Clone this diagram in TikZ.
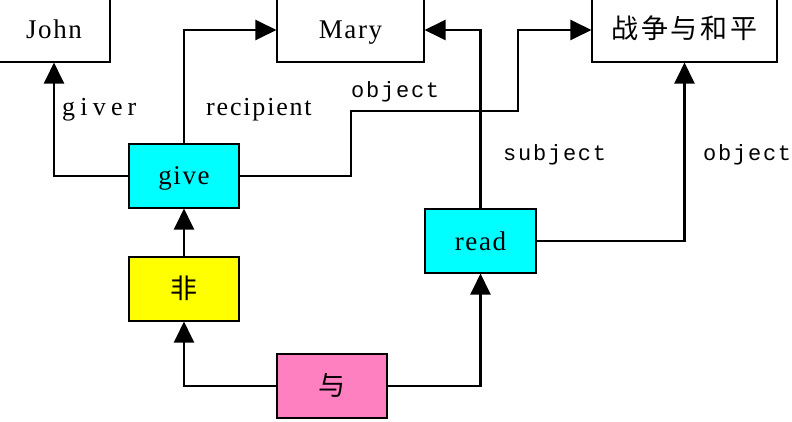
\documentclass[tikz,border=0pt]{standalone}
\usepackage{fontspec}
\setmainfont{Liberation Serif}
\newfontfamily\monof{Liberation Mono}
\newfontfamily\cjk{Noto Sans CJK SC}
\usetikzlibrary{arrows.meta}
\definecolor{boxcyan}{HTML}{00FFFF}
\definecolor{boxyellow}{HTML}{FFFF00}
\definecolor{boxpink}{HTML}{FF80C0}
\tikzset{
  box/.style={draw=black, line width=1.1pt, rectangle, inner sep=0pt,
    text height=18pt, text depth=0pt,
    font=\fontsize{27}{30}\selectfont\addfontfeature{LetterSpace=6}},
  cjkbox/.style={box, font=\cjk\fontsize{27}{30}\selectfont\addfontfeature{LetterSpace=11}},
  conn/.style={draw=black, line width=2.2pt, -{Triangle[length=21pt,width=20pt]}},
  seriflabel/.style={anchor=base west, inner sep=0pt, font=\fontsize{26}{28}\selectfont},
  monolabel/.style={anchor=base west, inner sep=0pt, font=\monof\fontsize{22}{24}\selectfont\addfontfeature{LetterSpace=8}},
}
\begin{document}
\begin{tikzpicture}[x=1pt,y=-1pt]
\useasboundingbox (0,0) rectangle (792,422);
\fill[white] (0,0) rectangle (792,422);
\begin{scope}
\clip (0,0) rectangle (792,422);
% boxes
\node[box, minimum width=112pt, minimum height=64pt] (john) at (54,30) {John};
\node[box, minimum width=147pt, minimum height=64pt] (mary) at (350.5,30) {Mary};
\node[cjkbox, minimum width=185pt, minimum height=64pt] (war) at (684.5,30) {战争与和平};
\node[box, fill=boxcyan, minimum width=110pt, minimum height=64pt] (give) at (184,176) {give};
\node[cjkbox, fill=boxyellow, minimum width=110pt, minimum height=64pt] (fei) at (184,289) {非};
\node[box, fill=boxcyan, minimum width=111pt, minimum height=64pt] (read) at (480.5,241) {read};
\node[cjkbox, fill=boxpink, minimum width=110pt, minimum height=64pt] (yu) at (332,386) {与};
% bend points
\coordinate (b1) at (351,111);
\coordinate (b2) at (518,111);
% connectors
\draw[conn] (give.west) -| (john.south);
\draw[conn] (give.north) |- (mary.west);
\draw[conn] (give.east) -| (b1) -- (b2) |- (war.west);
\draw[conn] (read.north) |- (mary.east);
\draw[conn] (read.east) -| (war.south);
\draw[conn] (fei.north) -- (give.south);
\draw[conn] (yu.west) -| (fei.south);
\draw[conn] (yu.east) -| (read.south);
% labels
\node[seriflabel] (lgiver) at (62,116) {\addfontfeature{LetterSpace=20}giver};
\node[seriflabel] (lrecip) at (206,116) {\addfontfeature{LetterSpace=7}recipient};
\node[monolabel] (lobj1) at (351,98) {object};
\node[monolabel] (lsubj) at (503,161) {subject};
\node[monolabel] (lobj2) at (703,161) {object};
\end{scope}
\end{tikzpicture}
\end{document}
